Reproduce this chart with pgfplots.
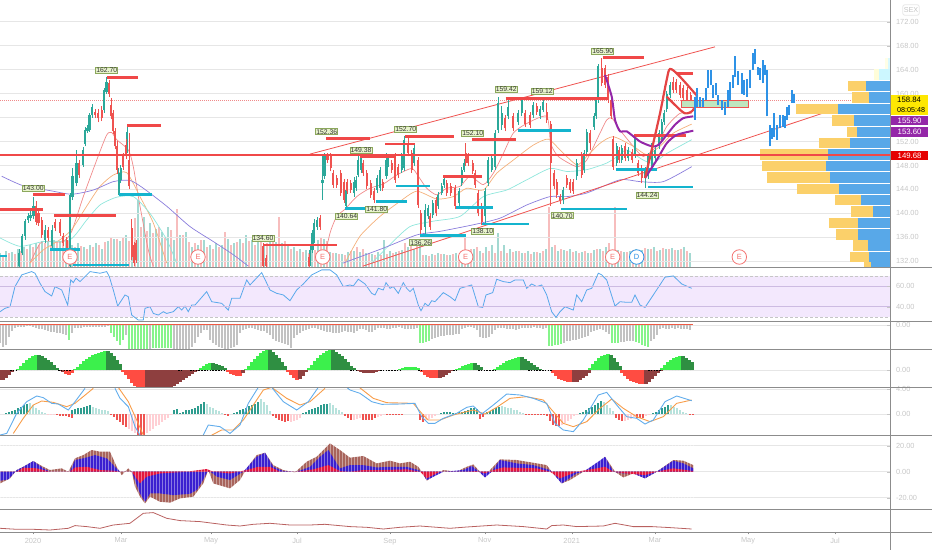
\documentclass[border=0pt]{standalone}
\usepackage{fontspec}
\setmainfont{Liberation Sans}
\usepackage{pgfplots}
\usepackage{pgfplotstable}
\pgfplotsset{compat=1.18}
\definecolor{up}{HTML}{2BA89A}
\definecolor{down}{HTML}{EF5350}
\definecolor{volup}{HTML}{A4D9D2}
\definecolor{voldown}{HTML}{F7BDBD}
\definecolor{gridc}{HTML}{E6E6E6}
\definecolor{lab}{HTML}{C6C6C6}
\definecolor{sep}{HTML}{8C8C8C}
\definecolor{lvlred}{HTML}{F04848}
\definecolor{lvlcy}{HTML}{14B4CE}
\definecolor{maPink}{HTML}{F08A8A}
\definecolor{maOr}{HTML}{F4B07A}
\definecolor{maCy}{HTML}{8FE6DC}
\definecolor{maBl}{HTML}{8A7DDC}
\definecolor{purp}{HTML}{9427A8}
\definecolor{proj}{HTML}{2E92E6}
\definecolor{vpY}{HTML}{FBD06A}
\definecolor{vpB}{HTML}{58A8E8}
\definecolor{barGr}{HTML}{C2C2C2}
\definecolor{barLi}{HTML}{86F48A}
\definecolor{sqLi}{HTML}{3CF04C}
\definecolor{sqDk}{HTML}{2F8F42}
\definecolor{sqRe}{HTML}{FF4C42}
\definecolor{sqMa}{HTML}{8E3F3F}
\definecolor{teDk}{HTML}{2E9C8E}
\definecolor{teLi}{HTML}{B7E2DC}
\definecolor{piLi}{HTML}{FFCFD4}
\definecolor{rsiBand}{HTML}{F3E8FD}
\definecolor{rsiLn}{HTML}{CDBBE2}
\definecolor{pBr}{HTML}{A8645C}
\definecolor{pBl}{HTML}{3A1FD0}
\definecolor{pCr}{HTML}{E3173E}
\definecolor{calF}{HTML}{E8F4CC}
\definecolor{calD}{HTML}{8CA85C}

% candles: x, body low, body high, wick low, wick high
\pgfplotstableread{
x lo hi wl wh
19 131.2 133.4 131 134
22 133.4 136.2 133 136.6
25 136.2 138.7 135.6 139
28 138.9 139.5 138.4 140
30.5 139.2 139.8 138.8 140.4
33.5 139.5 141.2 139 142.8
45 135.6 137.3 135 138
52 134.5 137.3 134 138
70 131.2 143.1 131 143.4
72.5 142.8 146.2 142.2 147.6
76.5 145 148.4 144.5 150.6
83 148.1 150.5 147.8 151
85 151.6 153.9 151.2 154.4
87.5 153.7 154.2 153.4 154.8
89.5 153.9 156.4 153.6 156.8
92 156.4 157.8 156 158.3
104 157.3 160.6 156.8 161
106.5 160.3 162 160 162.7
118.7 143.3 146.8 143 147.5
120.7 145.6 147.5 145 148
127 150.6 153.6 150 154.8
310 131.7 133.9 131.2 134.5
312.5 133.9 136.7 133.4 137.2
314 135.6 138.4 135 139
317 137.8 138.9 137.3 139.4
322.5 145 145.6 142.3 149.5
324.5 146.2 149.5 145.8 150
346 141.2 143.9 140.5 144.4
354 143.4 145.3 142.8 146
356 144.2 145.6 143.8 146.2
358.3 146.4 148.9 146 150
361 147.3 149.2 146.8 149.8
377 143.9 145.9 143.4 146.4
380 144.2 147.3 143.8 147.8
386.5 146.2 148.9 145.8 150
388.3 148.4 149.2 147.8 149.8
401.7 147.3 149.5 146.8 150
404 147.5 152.3 147 153
414.3 148.4 150.9 147.9 151.4
425 137.8 140.6 136.5 141.5
428.3 139.5 140.9 139 141.4
432.7 139.8 141.7 139.2 142.2
438.3 141.2 143.1 140.7 143.6
441.7 143.4 144.5 143 145
444 144.8 145.7 144.3 146.2
459.3 141.7 143.7 141.2 144.2
461.7 145 147.3 144.5 147.8
464 147.3 148.4 146.9 149
485 139.5 143.7 138.3 144.2
488.3 145 148.9 144.5 149.4
491.7 147.3 149.2 146.9 149.7
495 147.8 153.4 147.3 154
498 153.9 158.4 153.4 159.4
501.7 154.8 156.7 154 158
508.3 156.2 157.8 155.7 159
518.3 155.3 156.7 154.8 157.2
521.7 156.7 158.9 156.2 159.3
533.3 156.4 158.1 156 158.6
540 156.2 157.5 155.8 158
543.3 157.3 158.6 156.9 159.1
563.3 142.3 143.9 141.5 144.4
576.7 146.2 148.4 145.6 149
584 147.3 150 146.8 150.5
586.7 150.3 153.6 149.8 154.1
594 154.5 156.2 154 156.7
596 156.2 158.9 155.8 159.4
598.3 158.9 164.6 158.5 165
616.7 148.4 151.2 147.9 151.7
621.7 148.9 150.9 148.4 151.4
628 149.2 150.6 148.7 151.1
635 149.8 152.8 149.3 153.3
645 145.9 147.3 144.2 147.8
648.3 146.2 149.5 145.7 150
651.7 147.8 151.2 147.3 151.7
655 149.2 150.6 148.7 151.1
659.3 151.2 153.4 150.7 153.9
661.7 152.3 155.3 151.8 155.8
664 155.3 156.7 154.8 157.2
666.7 157.5 160 157 160.5
670 159.8 161.4 159.3 162
}\greenc
\pgfplotstableread{
x lo hi wl wh
36 138.6 141.2 138.1 142
38.5 138.4 140 137.9 140.5
41.7 136.4 138.9 135.9 139.4
48 135.9 137.3 135.4 137.8
55 137.5 138.6 137 139.1
60 136.7 138.6 136.2 139.1
63.3 135 136.2 134.5 136.7
66.7 134.2 135.6 133.7 136.1
79.3 146.4 148.4 145.9 148.9
95 156.4 157 155.9 157.5
98.3 155.9 156.7 155.2 157.4
101.7 155.9 157.3 155.4 158
109 160 161.8 159.5 162.2
111 156.2 158.1 155.7 159.2
113.3 153.7 156.7 153.2 157.2
115 151.2 153.7 150.7 154.2
117.3 147.3 151.2 146.5 152
123.3 147.8 149.5 147.3 150
126 149.5 151.4 149 152.5
129.3 144.5 148.9 144 153.5
131.7 132.8 137.5 132.3 139
134 131.7 134.8 131.2 135.3
136 132.3 135 131.8 135.5
263 131.2 134.5 131 135
266 131.2 132.5 131 133
309 131.2 132.8 131 133.3
320 137.8 139.2 137.3 139.7
327.5 148.9 149.5 148.4 150
330.7 147.5 149.5 147 150
333.3 144.8 146.7 144.3 147.2
336.7 144.8 145.9 144.3 146.4
340.7 143.4 146.7 142.9 147.2
344 142.3 145.3 141.8 145.8
347.3 143.7 145.3 143.2 145.8
350.7 143.9 145 143.4 145.5
363.3 146.7 148.4 146.2 148.9
366.7 144.5 146.7 144 147.2
370.7 143.1 145 142.6 145.5
374 142.3 143.7 141.8 144.2
382.7 144.2 145.3 143.7 145.8
391.7 147.3 148.4 146.8 148.9
395 145.6 149.5 145.1 150
398.3 146.4 147.8 145.9 148.3
408.3 150 151.7 149.5 152.7
411.7 147.3 150 146.8 150.5
418.3 141.4 148.9 140.9 149.4
420.7 137.3 140 136.3 140.5
430 137.8 139.5 137.3 140
436 140 142.3 139.5 142.8
446.7 143.4 145 142.9 145.5
450.7 143.4 144.5 142.9 145
455 141.2 144.2 140.7 144.7
465.7 148.4 150 147.9 151.7
468.3 148.4 149.5 147.9 150
472.7 147 148.4 146.5 148.9
475 144.8 146.7 144.3 147.2
478.3 140 143.4 139.5 143.9
481.7 138.6 141.2 138 141.7
505 154.2 155.9 153.7 156.4
513.3 154.2 156.2 153.7 156.7
525 155 156.7 154.5 157.2
530 154.8 156.4 154.3 156.9
536.7 157 157.9 156.5 158.4
546.7 155.6 157 155.1 158.5
550.7 148.4 155 141.2 155.5
554 144.5 146.7 144 147.2
556.7 143.1 145.3 142.6 145.8
560 142 142.8 141.5 143.3
566.7 144.8 145.9 144.3 146.4
570 143.9 145.3 143.4 145.8
573.3 143.7 145.3 143.2 145.8
581.7 146.4 149.8 145.9 150.3
590 151.7 153.4 150.5 154
601.7 161.7 164.2 161.2 165.9
605 161.4 164.2 160.9 164.7
608.3 158.9 162.8 158.4 163.3
611 156.2 158.9 155.7 159.4
613.3 147.8 152.5 147.3 153
619 148.9 150.6 148.4 151.1
625 149.2 151.2 148.7 151.7
632 148.9 150.3 148.4 150.8
638.3 146.7 148.4 146.2 148.9
641.7 145.9 147.5 145 148
673.3 160.6 162 160.1 162.8
676 160.6 162 160.1 162.5
680 159.8 161.4 159.3 161.9
683.3 159.2 160.9 158.7 161.4
687.3 158.9 160.6 158.4 161.1
690.7 158.4 159.8 157.9 160.3
}\redc
% projected blue bars: x, low, high
\pgfplotstableread{
x lo hi
695 155.6 159.5
697.3 157.8 160.9
700 157.8 159.5
703.3 157.8 159.2
706 158.9 160.9
708.3 160.9 164
710.7 161.4 164
713.3 159.2 161.4
716 159.8 161.7
718.3 158.1 159.8
721.7 157.3 158.9
725 156.4 158.6
727.7 157.8 160.6
730 158.9 162
732.7 160.9 163.1
735.3 162.8 166.2
738.3 161.4 163.7
741.7 160 163.4
744.3 159.8 162.3
747.3 159.5 162.5
750 160.9 163.9
752.7 163.9 166.7
755 165 167.4
757.7 163.1 164.5
760.3 162.3 164.2
762.7 161.7 165.6
764.7 163.1 164.8
766.7 156.2 163.9
770 151.2 154.8
772.3 152.5 154.2
774.3 152.8 156.7
776.7 152.3 154.8
780 154.2 156.4
783.3 154.5 156.4
785 154.2 156.2
787.3 155.6 157.8
789.3 156.4 158.1
791.7 158.4 160.6
794 158.4 160
}\projc
% volume profile: price row, left edge of yellow, left edge of blue
\pgfplotstableread{
p y b
161.3 848.3 865.7
159.35 852.3 868.7
157.4 796.3 837.7
155.5 832.3 854.3
153.6 847.3 857.3
151.8 819 850
149.85 760 828.3
147.9 762.3 826
146 767 830
144.1 796.7 838.7
142.2 835 861.3
140.3 851 873
138.4 828.7 857.7
136.5 836.3 858.3
134.65 853 867.7
132.75 850.3 869.3
131.4 864 871
}\vprof

\newcommand{\candles}[2]{%
\addplot[draw=none,mark=none,forget plot,error bars/.cd,y dir=plus,y explicit,error mark=none,
  error bar style={draw=#2,line width=.7pt,solid}] table[x=x,y=wl,y error expr=\thisrow{wh}-\thisrow{wl}]{#1};
\addplot[draw=none,mark=none,forget plot,error bars/.cd,y dir=plus,y explicit,error mark=none,
  error bar style={draw=#2,line width=2.1pt,solid}] table[x=x,y=lo,y error expr=\thisrow{hi}-\thisrow{lo}]{#1};
}
% comb of bars 3 px apart starting at x0
\newcommand{\barw}{1.5pt}
\newcommand{\bars}[3]{%
\addplot[ycomb,draw=#1,forget plot,line width=\barw] table[row sep=\\,header=false,x expr=\coordindex*3+#2,y index=0]{#3};
}
\newcommand{\levels}[2]{\addplot[draw=#1,line width=2.6pt,unbounded coords=jump,forget plot] coordinates {#2};}
\tikzset{callout/.style={draw=calD,fill=calF,inner sep=.6pt,line width=.5pt,text=black!80,font=\fontsize{6.8}{7}\selectfont},
 evt/.style={circle,draw=#1,fill=white,line width=.8pt,minimum size=14.5pt,inner sep=0pt,text=#1,font=\fontsize{7.5}{8}\selectfont},
 tag/.style={fill=#1,minimum width=37.5pt,minimum height=9.6pt,inner sep=0pt,anchor=west,font=\fontsize{7.8}{8}\selectfont}}
\pgfplotsset{pane/.style={scale only axis,width=890pt,xmin=0,xmax=890,axis line style={draw=none},
  xtick=\empty,ytick pos=right,yticklabel pos=right,tick style={draw=lab},major tick length=3pt,
  ymajorgrids,grid style={gridc,line width=.9pt},
  yticklabel style={text=lab,font=\fontsize{7.4}{8}\selectfont,anchor=west,xshift=2.5pt,
   /pgf/number format/fixed,/pgf/number format/fixed zerofill,/pgf/number format/precision=2,/pgf/number format/assume math mode=true}}}

\begin{document}
\begin{tikzpicture}

% volume under the main pane
\begin{axis}[pane,at={(0pt,283pt)},anchor=south west,height=267pt,ymin=0,ymax=267,ytick=\empty,ymajorgrids=false]
\addplot[ycomb,draw=volup,line width=1.3pt] table[row sep=\\,header=false,x expr=\coordindex*6,y index=0]{14\\16\\15\\18\\20\\22\\24\\26\\25\\27\\26\\28\\22\\24\\20\\22\\24\\18\\26\\28\\26\\32\\36\\67\\50\\44\\38\\35\\40\\27\\32\\35\\20\\22\\27\\22\\24\\22\\28\\24\\28\\32\\27\\28\\22\\27\\25\\24\\22\\20\\18\\17\\20\\27\\28\\15\\14\\13\\15\\16\\15\\14\\13\\15\\27\\16\\15\\17\\20\\18\\22\\12\\13\\14\\13\\12\\14\\13\\16\\18\\16\\20\\22\\34\\22\\18\\16\\14\\16\\15\\14\\18\\20\\16\\17\\18\\16\\15\\14\\17\\18\\20\\16\\17\\15\\16\\18\\17\\18\\20\\17\\18\\19\\17\\20\\14\\};
\addplot[ycomb,draw=voldown,line width=1.3pt] table[row sep=\\,header=false,x expr=\coordindex*6+3,y index=0]{12\\14\\13\\16\\18\\20\\22\\24\\22\\25\\24\\26\\20\\21\\18\\20\\22\\25\\30\\28\\30\\26\\49\\40\\36\\34\\40\\30\\37\\58\\32\\25\\24\\27\\20\\18\\20\\35\\22\\25\\24\\26\\22\\25\\24\\26\\50\\26\\18\\16\\15\\14\\17\\30\\26\\14\\13\\12\\16\\20\\18\\14\\12\\12\\13\\14\\16\\24\\22\\28\\12\\11\\12\\13\\12\\13\\12\\29\\18\\20\\14\\16\\14\\16\\14\\15\\16\\14\\13\\15\\16\\60\\22\\18\\16\\15\\14\\16\\14\\18\\16\\24\\60\\16\\15\\17\\16\\19\\18\\16\\19\\18\\17\\18\\16\\};
\end{axis}

% main price pane
\begin{axis}[pane,at={(0pt,283pt)},anchor=south west,height=267pt,ymin=131.05,ymax=175.62,
  ytick={132,136,140,144,148,152,160,164,168,172}]
\addplot[draw=gridc,line width=.9pt] coordinates {(0,156)(890,156)};
\addplot[draw=maPink,line width=.6pt,dash pattern=on 1pt off 1pt] coordinates {(0,158.84)(890,158.84)};
% moving averages
\addplot[draw=maPink,line width=.7pt,smooth,tension=.4] coordinates {(30,131.7)(40,135)(46.7,135.3)(63.3,135.3)(71.7,137)(83.3,142.8)(96.7,148.9)(106.7,153.1)(111.7,153.5)(116.7,152.3)(128.3,150.6)(133.3,147.8)(140,141.2)(148.3,133.9)(153.3,131.2)};
\addplot[draw=maPink,line width=.7pt,smooth,tension=.4] coordinates {(323.3,131.7)(330,136.7)(336.7,139.5)(345,140.7)(356.7,142.8)(370,144.2)(383.3,144.9)(396.7,146.4)(411.7,147.5)(418.3,146.2)(426.7,144.2)(436.7,143.1)(446.7,144.2)(460,144.5)(470,146.2)(483.3,144.8)(493.3,146.7)(503.3,150)(513.3,153.4)(526.7,155)(546.7,156.2)(550.7,151.7)(558.3,149.5)(576.7,147.8)(586.7,148.9)(600,153.4)(606.7,155.6)(612,155.9)(620,153.9)(633.3,151.2)(643.3,149.5)(656.7,151.2)(666.7,154.5)(680,156.7)(691.7,156.7)};
\addplot[draw=maOr,line width=.7pt,smooth,tension=.4] coordinates {(30,131.7)(43.3,133.9)(60,135.6)(71.7,137.3)(86.7,141.2)(100,144.5)(113.3,146.4)(126.7,146.8)(140,142.8)(153.3,138.4)(166.7,131.7)};
\addplot[draw=maOr,line width=.7pt,smooth,tension=.4] coordinates {(345,131.7)(360,136.2)(380,139.5)(400,142)(416.7,143.7)(436.7,142.4)(453.3,142.8)(466.7,144.2)(483.3,143.9)(496.7,146.7)(513.3,148.9)(533.3,151.4)(548.3,152.4)(560,150.6)(576.7,148.1)(586.7,149.5)(600,151.7)(613.3,152.8)(633.3,151.2)(646.7,149.8)(660,151.2)(673.3,153.4)(691.7,154.9)};
\addplot[draw=maCy,line width=.7pt,smooth,tension=.4] coordinates {(0,135.9)(20,134.5)(43.3,135.3)(70,135.6)(86.7,138.9)(100,141.4)(116.7,142.7)(133.3,142.8)(150,140)(166.7,135.6)(176.7,131.7)};
\addplot[draw=maCy,line width=.7pt,smooth,tension=.4] coordinates {(371.7,131.7)(390,134.8)(410,137.8)(433.3,138.7)(460,139.5)(483.3,142.8)(506.7,143.9)(526.7,145.6)(550,147.5)(566.7,147)(586.7,147.3)(606.7,148.4)(620,149.8)(626.7,150.6)(643.3,148.9)(653.3,148.4)(666.7,150)(691.7,152.3)};
\addplot[draw=maBl,line width=.7pt,smooth,tension=.4] coordinates {(1.7,146.2)(23.3,144.6)(50,143.8)(71.7,143.2)(93.3,143.9)(113.3,145.3)(130,145.5)(143.3,144.2)(166.7,141.2)(190,137.8)(213.3,135.3)(233.3,133.1)(248.3,131.2)};
\addplot[draw=maBl,line width=.7pt,smooth,tension=.4] coordinates {(343,131.7)(383.3,134.2)(416.7,136.4)(440,137)(473.3,138.1)(500,139.2)(526.7,141.4)(550,142.8)(566.7,142.8)(586.7,143.4)(620,145.6)(640,145.3)(663.3,145.3)(691.7,147.8)};
% trend lines
\addplot[draw=down,line width=.8pt] coordinates {(310,149.9)(715,167.8)};
\addplot[draw=down,line width=.8pt] coordinates {(363,131.2)(836.7,157.5)};
% candles
\candles{\greenc}{up}
\candles{\redc}{down}
% support and resistance stubs
\levels{lvlred}{(0,140.6)(43.3,140.6)(0,nan)(33,143.2)(65,143.2)(0,nan)(54,139.6)(116,139.6)(0,nan)(106.7,162.7)(137.7,162.7)(0,nan)(127,154.7)(161,154.7)(0,nan)(263,134.7)(336.7,134.7)(0,nan)(326,152.5)(370,152.5)(0,nan)(385,151.6)(415,151.6)(0,nan)(360,149.5)(396,149.5)(0,nan)(404.7,152.8)(454,152.8)(0,nan)(471.7,152.3)(516,152.3)(0,nan)(443,146.2)(481.7,146.2)(0,nan)(505.7,159.2)(608,159.2)(0,nan)(602.7,166)(644,166)(0,nan)(634,153)(686,153)(0,nan)(677,163.4)(693,163.4)}
\levels{lvlcy}{(0,132.9)(7,132.9)(0,nan)(50,134)(79.7,134)(0,nan)(73,131.4)(129,131.4)(0,nan)(118.7,143.2)(152,143.2)(0,nan)(345,140.8)(377,140.8)(0,nan)(375.7,142)(407,142)(0,nan)(396,144.6)(430,144.6)(0,nan)(420,136.3)(466,136.3)(0,nan)(456,141)(492.7,141)(0,nan)(482,138.2)(529,138.2)(0,nan)(518,153.8)(571,153.8)(0,nan)(561,140.7)(627,140.7)(0,nan)(616,147.3)(657,147.3)(0,nan)(648,144.4)(693,144.4)}
% thick purple curves and the hand-drawn loop
\addplot[draw=purp,line width=2pt,smooth,tension=.4] coordinates {(605,163.1)(611.7,159.5)(615,155.6)(620,153.7)(626.7,153.7)(640,152)(651.7,151.2)(658.3,151.4)(666.7,153.1)(675,154.8)(683.3,155.9)(693.3,156.2)};
\addplot[draw=purp,line width=2pt,smooth,tension=.4] coordinates {(645,145.9)(656.7,148.9)(666.7,151.7)(676.7,153.1)(693.3,153.8)};
\addplot[draw=lvlred!95!black,line width=2.2pt,smooth,tension=.5] coordinates {(645,145.9)(651.7,150.6)(660,156.7)(666.7,162.3)(670,164.1)(678.3,163.1)(695,160)(696.7,159.5)(693.3,157.3)(685,156.7)(675,158.1)(666.7,159.5)};
% box
\addplot[draw=down,fill=green!60!black!25,line width=.8pt] coordinates {(681.7,157.7)(748.3,157.7)(748.3,158.8)(681.7,158.8)} --cycle;
% projected path
\addplot[draw=none,mark=none,forget plot,error bars/.cd,y dir=plus,y explicit,error mark=none,
  error bar style={draw=proj,line width=1.9pt,solid}] table[x=x,y=lo,y error expr=\thisrow{hi}-\thisrow{lo}]{\projc};
% volume profile
\addplot[draw=none,mark=none,forget plot,error bars/.cd,x dir=plus,x explicit,error mark=none,
  error bar style={draw=vpY,line width=10.3pt,solid}] table[x=y,y=p,x error expr=890-\thisrow{y}]{\vprof};
\addplot[draw=none,mark=none,forget plot,error bars/.cd,x dir=plus,x explicit,error mark=none,
  error bar style={draw=vpB,line width=10.3pt,solid}] table[x=b,y=p,x error expr=890-\thisrow{b}]{\vprof};
\addplot[draw=yellow!15!white,line width=10.3pt] coordinates {(874.3,163.2)(890,163.2)};
\addplot[draw=blue!15!cyan!20!white,line width=10.3pt] coordinates {(879.3,163.2)(890,163.2)};
\addplot[draw=yellow!10!white,line width=10.3pt] coordinates {(885,165)(890,165)};
\addplot[draw=blue!15!cyan!15!white,line width=10.3pt] coordinates {(888,165)(890,165)};
% 149.68 level
\addplot[draw=lvlred,line width=1.9pt] coordinates {(0,149.68)(890,149.68)};
\end{axis}

% RSI
\begin{axis}[pane,at={(0pt,228.3pt)},anchor=south west,height=54.7pt,ymin=25.3,ymax=78.9,ytick={40,60},grid style={rsiLn,line width=.8pt},axis on top]
\addplot[fill=rsiBand,draw=none] coordinates {(0,30)(890,30)(890,70)(0,70)} --cycle;
\addplot[draw=lab,line width=.7pt,dash pattern=on 3pt off 2pt] coordinates {(0,70)(890,70)};
\addplot[draw=lab,line width=.7pt,dash pattern=on 3pt off 2pt] coordinates {(0,30)(890,30)};
\addplot[draw=rsiLn,line width=.7pt] coordinates {(0,60)(890,60)};
\addplot[draw=rsiLn,line width=.7pt] coordinates {(0,40)(890,40)};
\addplot[draw=proj!80!white,line width=.8pt] coordinates {(0,35.1)(5,38.4)(10,40)(15,59.7)(21.7,71.2)(31.7,74.4)(35,72.8)(40,63)(45,54.8)(51.7,50.5)(55,59.7)(61.7,56.4)(67.7,41.6)(70.7,66.2)(73.3,63.6)(76,67.9)(80,64.6)(90,74.4)(100,72.8)(106.7,74.4)(109.3,69.5)(113.3,56.4)(117.7,40.6)(125,51.5)(128.3,49.8)(131.7,31.8)(138.3,26.9)(143.3,26.9)(145,38.4)(150,40)(153.3,33.4)(158.3,31.8)(163.3,35.1)(166.7,33.4)(173.3,35.1)(178.3,40)(181.7,36.7)(185,40.6)(188.3,35.1)(191.7,41.6)(195,41.6)(206.7,54.8)(211.7,44.9)(221.7,43.3)(228.3,36.7)(231.7,48.2)(240,48.2)(246.7,66.2)(250,61.3)(261.7,73.4)(270,56.4)(276.7,53.1)(283.3,51.5)(290,45.9)(296.7,56.4)(303.3,62.3)(311.7,71.2)(321.7,76.1)(330,76.1)(336.7,71.2)(343.3,59.7)(350,61.3)(353.3,60.3)(358.3,66.9)(365,62.3)(371.7,53.1)(375,51.5)(378.3,58)(383.3,56.4)(386,63.6)(390,58)(393.3,59.7)(398.3,53.1)(403.3,63.6)(406.7,58)(410,54.8)(413.3,58)(418.3,41.6)(421,36)(425,43.3)(428.3,40.6)(431.7,45.9)(435,44.9)(443.3,53.8)(450,49.8)(455,45.9)(460,58)(471.7,61.3)(478.3,40)(482.7,39.3)(486,51.5)(492.7,53.8)(496.7,66.9)(503.3,64.6)(510,63.6)(515,66.2)(523.3,66.2)(526.7,58)(531.7,62.3)(536.7,59.7)(541.7,61.3)(546.7,51.5)(551.7,35.1)(556,29.5)(560,35.1)(565,40)(573.3,36.7)(576.7,51.5)(581.7,44.9)(586.7,56.4)(591.7,58)(598.3,72.8)(601.7,71.2)(606.7,66.2)(615,40.6)(620,44.9)(626.7,44.3)(631.7,44.3)(635,51.5)(640,41.6)(645,39.3)(653.3,51.5)(665,68.9)(673.3,70.2)(681.7,62.3)(691.7,58)};
\end{axis}

% hanging histogram
\begin{axis}[pane,at={(0pt,200.3pt)},anchor=south west,height=28pt,ymin=-24.7,ymax=3.3,ytick={0}]
\bars{barGr}{0}{-18\\-22\\-20\\-12\\-6\\-3\\-2\\-2\\-2\\-1\\-1\\-2\\-3\\-4\\-4\\-5\\-6\\-7\\-7\\-8\\-8\\-9\\-10\\}
\bars{barLi}{69}{-15\\}
\bars{barGr}{72}{-8\\-3\\-3\\-3\\-2\\-2\\-2\\-2\\-2\\-2\\-2\\-2\\-1\\}
\bars{barLi}{111}{-8\\-12\\-16\\-20\\-15\\}
\bars{barGr}{126}{-10\\}
\bars{barLi}{129}{-24\\-24\\-24\\-24\\-24\\-24\\-24\\}
\bars{barGr}{150}{-24\\}
\bars{barLi}{153}{-23\\-23\\-23\\-23\\-23\\-23\\-23\\}
\bars{barGr}{174}{-24\\-24\\-24\\-24\\-24\\-24\\-22\\-18\\-12\\-8\\-5\\-5\\-15\\-18\\-20\\-22\\-23\\-24\\-24\\-23\\-22\\-20\\-8\\-5\\-4\\-3\\-3\\-4\\-5\\-6\\-6\\-8\\-10\\-14\\-16\\-17\\-18\\-19\\-20\\-23\\-13\\-10\\-8\\-6\\-5\\-4\\-3\\-3\\-4\\-5\\-6\\-7\\-7\\-8\\-8\\-8\\-7\\-6\\-7\\-7\\-8\\-6\\-4\\-4\\-5\\-7\\-7\\-5\\-3\\-3\\-3\\-4\\-4\\-3\\-3\\-2\\-3\\-4\\-4\\-4\\-4\\-3\\}
\bars{barLi}{420}{-18\\-18\\-17\\-16\\}
\bars{barGr}{432}{-14\\-13\\-12\\-11\\-11\\-10\\-10\\-10\\-9\\-9\\-4\\-3\\-2\\-2\\-3\\-5\\-12\\-13\\-13\\-12\\-9\\-5\\-3\\-3\\-3\\-4\\-4\\-4\\-5\\-4\\-3\\-3\\-3\\-3\\-2\\-3\\-3\\-4\\-3\\}
\bars{barLi}{549}{-21\\-21\\-20\\-20\\-19\\}
\bars{barGr}{564}{-18\\-16\\-16\\-15\\-15\\-14\\-13\\-12\\-11\\-7\\-6\\-5\\-4\\-5\\-7\\-9\\}
\bars{barLi}{612}{-18\\-18\\-18\\}
\bars{barGr}{621}{-17\\-17\\-16\\-16\\-16\\}
\bars{barLi}{636}{-17\\-18\\-20\\-21\\-22\\}
\bars{barGr}{651}{-16\\-14\\-10\\-4\\-3\\-4\\-4\\-3\\-4\\-3\\-4\\-4\\-4\\-5\\}
\addplot[draw=down!85!orange,line width=1pt] coordinates {(0,0)(693,0)};
\end{axis}

% squeeze momentum, bars that touch
\renewcommand{\barw}{3.2pt}
\begin{axis}[pane,at={(0pt,162.7pt)},anchor=south west,height=37.6pt,ymin=-17,ymax=20.6,ytick={0}]
\bars{sqMa}{0}{-10\\-10\\-8\\-5\\-2\\}
\bars{sqLi}{18}{1\\4\\7\\10\\12\\14\\15\\}
\bars{sqDk}{39}{15\\14\\12\\10\\8\\5\\2\\}
\bars{sqMa}{60}{-1\\-2\\}
\bars{sqRe}{66}{-4\\-5\\-3\\}
\bars{sqLi}{75}{1\\3\\6\\9\\11\\13\\15\\16\\17\\18\\19\\}
\bars{sqDk}{108}{19\\17\\14\\10\\6\\}
\bars{sqRe}{123}{-2\\-5\\-9\\-13\\-16\\-17\\-17\\-17\\}
\bars{sqMa}{147}{-17\\-17\\-17\\-17\\-17\\-17\\-17\\-17\\-17\\-16\\-14\\-12\\-10\\-8\\-6\\-4\\-2\\-1\\}
\bars{sqLi}{201}{2\\4\\6\\7\\}
\bars{sqDk}{213}{7\\6\\5\\4\\2\\}
\bars{sqRe}{228}{-2\\-4\\-5\\-6\\-6\\}
\bars{sqMa}{243}{-3\\}
\bars{sqLi}{246}{1\\4\\8\\11\\14\\17\\19\\20\\}
\bars{sqDk}{270}{20\\18\\15\\12\\8\\4\\}
\bars{sqRe}{288}{-2\\-5\\-8\\-10\\}
\bars{sqMa}{300}{-9\\-6\\-2\\}
\bars{sqLi}{309}{2\\5\\9\\12\\15\\17\\19\\20\\}
\bars{sqDk}{333}{20\\18\\16\\14\\11\\8\\4\\2\\}
\bars{sqMa}{358}{-1\\-2\\-3\\-3\\-3\\-3\\-2\\-1\\}
\bars{sqLi}{400}{1\\2\\3\\3\\3\\3\\2\\}
\bars{sqRe}{422}{-2\\-5\\-7\\-8\\-8\\-8\\}
\bars{sqMa}{440}{-8\\-7\\-5\\-3\\-1\\}
\bars{sqLi}{457}{1\\2\\4\\5\\6\\7\\}
\bars{sqDk}{475}{7\\5\\3\\}
\bars{sqLi}{495}{1\\3\\5\\7\\9\\10\\11\\12\\13\\}
\bars{sqDk}{522}{13\\11\\9\\7\\5\\3\\1\\}
\bars{sqRe}{553}{-3\\-6\\-9\\-10\\-11\\-12\\-12\\}
\bars{sqMa}{574}{-12\\-12\\-10\\-8\\-6\\-3\\}
\bars{sqLi}{590}{2\\6\\9\\12\\14\\15\\16\\}
\bars{sqDk}{611}{15\\12\\8\\4\\}
\bars{sqRe}{622}{-3\\-6\\-9\\-11\\-12\\-13\\-14\\-14\\}
\bars{sqMa}{646}{-14\\-12\\-9\\-6\\-3\\-1\\}
\bars{sqLi}{662}{2\\5\\8\\10\\12\\13\\14\\}
\bars{sqDk}{683}{14\\12\\10\\8\\}
\addplot[draw=black,line width=1.1pt,dash pattern=on 1.6pt off 1.2pt,unbounded coords=jump] coordinates {(10,0)(17,0)(0,nan)(58,0)(72,0)(0,nan)(178,0)(183,0)(0,nan)(190,0)(225,0)(0,nan)(350,0)(358,0)(0,nan)(380,0)(400,0)(0,nan)(418,0)(421,0)(0,nan)(453,0)(457,0)(0,nan)(478,0)(495,0)(0,nan)(528,0)(552,0)(0,nan)(648,0)(662,0)};
\end{axis}

% MACD
\renewcommand{\barw}{1.5pt}
\begin{axis}[pane,at={(0pt,114.7pt)},anchor=south west,height=48pt,ymin=-3.45,ymax=4.33,ytick={0,4}]
\bars{teDk}{6}{.1\\.3\\.5\\.7\\.9\\1.2\\1.5\\1.7\\}
\bars{teLi}{30}{1.8\\1.5\\1\\.7\\.4\\.2\\}
\bars{piLi}{48}{-.1\\-.1\\-.2\\}
\bars{down}{57}{-.2\\-.3\\-.4\\-.4\\-.5\\-.7\\}
\bars{teDk}{72}{.7\\.8\\.9\\1\\1.1\\1.3\\1.4\\}
\bars{teLi}{93}{1.2\\.9\\.8\\.7\\.6\\.5\\}
\bars{down}{111}{-.2\\-.5\\-.9\\-1.3\\-1.8\\-2.1\\}
\bars{piLi}{129}{-2.4\\-2.7\\-3\\}
\bars{down}{138}{-3.4\\-3.4\\-3.4\\}
\bars{piLi}{147}{-3\\-2.7\\-2.4\\-2\\-1.7\\-1.3\\-1\\-.6\\-.2\\}
\bars{teDk}{174}{.7\\.8\\.2\\.4\\.6\\.6\\.8\\1\\1.3\\1.7\\1.9\\}
\bars{teLi}{207}{1.6\\1.2\\1\\.7\\.5\\.2\\}
\bars{down}{225}{-.2\\-.3\\}
\bars{teDk}{234}{.1\\.3\\.6\\.8\\1\\1.3\\1.5\\1.7\\1.9\\}
\bars{teLi}{261}{2.4\\2\\1.4\\.5\\}
\bars{down}{273}{-.3\\-.6\\-.9\\-1.1\\-1.3\\-1.2\\}
\bars{piLi}{291}{-1.3\\-1.2\\-1\\-.6\\}
\bars{teDk}{303}{.2\\.4\\.6\\.8\\1\\1.2\\1.4\\1.6\\1.7\\}
\bars{teLi}{330}{1.8\\1.4\\1\\.7\\.3\\}
\bars{down}{345}{-.4\\-.7\\-.9\\}
\bars{piLi}{354}{-.9\\-.8\\-.7\\}
\bars{down}{363}{-.9\\-1\\-1\\-.9\\-.7\\}
\bars{piLi}{378}{-.5\\-.4\\-.2\\}
\bars{down}{387}{-.1\\-.1\\-.2\\-.1\\-.1\\-.1\\}
\bars{down}{420}{-1\\-1.3\\}
\bars{piLi}{426}{-.9\\-.8\\-.6\\-.4\\}
\bars{teDk}{441}{.2\\.3\\.4\\.3\\.2\\.2\\.3\\.4\\.5\\.7\\.9\\1\\.8\\}
\bars{down}{480}{-.8\\-.5\\}
\bars{teDk}{487}{.3\\.5\\.8\\1\\1.2\\}
\bars{teLi}{502}{1.3\\1.2\\1\\.9\\.7\\.6\\.4\\.2\\}
\bars{down}{526}{-.1\\-.1\\-.2\\-.1\\-.1\\-.2\\-.2\\-.3\\}
\bars{down}{550}{-1.2\\-1.8\\-2\\-1.9\\}
\bars{piLi}{562}{-1.7\\-1.5\\-1.2\\-.8\\-.4\\-.1\\}
\bars{teDk}{580}{.1\\.3\\.6\\.9\\1.2\\1.4\\1.8\\2.1\\}
\bars{teLi}{604}{1.9\\1.5\\1\\.5\\}
\bars{down}{616}{-.6\\-1\\-1.2\\}
\bars{piLi}{625}{-1.2\\-1\\-.8\\-.5\\}
\bars{down}{637}{-.6\\-.7\\-.6\\}
\bars{piLi}{646}{-.3\\-.2\\}
\bars{teDk}{653}{.1\\.3\\.6\\.9\\1.1\\1.5\\}
\bars{teLi}{671}{1.5\\1.2\\.9\\.6\\.3\\.2\\}
\bars{down}{690}{-.1\\-.1\\}
\addplot[sharp plot,draw=maOr!60!orange,line width=.9pt,unbounded coords=jump] coordinates {(13.3,-3.14)(23.3,-.7)(33.3,1.46)(41.7,2.11)(53.3,1.89)(66.7,1.19)(75,1.73)(93.3,4.16)(0,nan)(118.3,4.32)(128.3,2)(136.7,-.97)(143.3,-3.41)(0,nan)(211.7,-3.41)(221.7,-2.59)(233.3,-2.59)(243.3,-.97)(253.3,1.46)(263.3,3.89)(271.7,4.32)(286.7,2.54)(300,1.46)(310,2)(325,4.16)(0,nan)(359.3,4.32)(373.3,2.54)(386.7,1.84)(413.3,1.73)(421.7,.11)(428.3,-.97)(440,-.97)(453.3,-.16)(473.3,.65)(485,0)(496.7,1.08)(510,2.54)(526.7,2.81)(543.3,2.27)(553.3,.38)(563.3,-1.51)(573.3,-2.05)(586.7,-1.24)(600,.92)(611.7,2.43)(623.3,.92)(636.7,-.43)(650,-1.24)(663.3,-.43)(676.7,1.73)(691.7,2.27)};
\addplot[sharp plot,draw=proj!75!white,line width=.9pt,unbounded coords=jump] coordinates {(0,-3.41)(6.7,-3.14)(16.7,.11)(26.7,2)(36.7,2.92)(43.3,2.65)(51.7,1.73)(58.3,1.62)(68.3,.65)(75,2)(85,4.16)(0,nan)(115,4.16)(120,2.54)(128.3,1.19)(135,-2.05)(140,-3.41)(0,nan)(203.3,-3.41)(208.3,-1.78)(220,-2.05)(230,-3.14)(240,-1.78)(248.3,1.73)(258.3,4.32)(0,nan)(271.7,4.32)(283.3,2)(296.7,.65)(308.3,2)(318.3,4.32)(0,nan)(346.7,4.32)(350,3.89)(360,3.35)(371.7,2)(381.7,1.57)(400,1.62)(415,1.73)(421.7,-.43)(428.3,-1.51)(435,-1.51)(443.3,-.7)(456.7,.11)(466.7,1.08)(473.3,1.3)(481.7,0)(493.3,1.46)(506.7,3.24)(520,3.08)(533.3,2.54)(546.7,1.73)(555,-1.51)(563.3,-2.59)(573.3,-2.86)(583.3,-.97)(598.3,3.08)(606.7,3.51)(616.7,1.46)(626.7,-.43)(636.7,-.7)(645,-1.62)(653.3,-.97)(665,2)(676.7,2.92)(691.7,2.16)};
\end{axis}

% stacked areas, striped by white x grid lines
\begin{axis}[pane,at={(0pt,40.3pt)},anchor=south west,height=74.4pt,ymin=-29.2,ymax=28,ytick={-20,0,20},
  ymajorgrids=false,axis on top,xtick={0,3,...,693},xticklabels={},xtick style={draw=none},xmajorgrids,x grid style={white,opacity=.4,line width=.6pt}]
\addplot[draw=gridc,line width=.9pt] coordinates {(0,20)(890,20)};
\addplot[draw=gridc,line width=.9pt] coordinates {(0,0)(890,0)};
\addplot[draw=gridc,line width=.9pt] coordinates {(0,-20)(890,-20)};
\addplot[fill=pBr,draw=none] coordinates {(0,0)(0,-9)(10,-5.1)(16.7,1.3)(23.3,3.8)(33.3,8.2)(43.3,3.8)(50,1.3)(61.7,2.6)(68.3,0)(75,10.3)(83.3,12.8)(91.7,16.7)(100,15.4)(110,15.4)(116.7,3.8)(121.7,-2.6)(128.3,2.6)(131.7,0)(135,-11.5)(140,-19.2)(145,-24.4)(150,-19.2)(160,-23.1)(170,-23.8)(180,-20.5)(193.3,-19.2)(203.3,-9)(208.3,1.3)(213.3,-9)(230,-12.8)(240,-6.4)(246.7,2.6)(256.7,12.8)(265,14.6)(273.3,5.1)(283.3,1.3)(295,-.5)(306.7,7.7)(316.7,11.5)(330,21.8)(340,16.7)(350,10.8)(363.3,12.1)(376.7,6.4)(390,8.5)(400,6.4)(410,7.7)(418.3,3.8)(421.7,0)(426.7,-6.9)(443.3,1.3)(456.7,0)(466.7,3.8)(473.3,5.6)(480,0)(485,-4.4)(490,1.3)(500,9.5)(516.7,9)(533.3,6.9)(546.7,5.1)(551.7,0)(561.7,-9)(570,-6.4)(583.3,0)(596.7,5.1)(605,11.5)(611.7,3.8)(615,0)(623.3,-4.4)(633.3,-1.3)(645,-5.1)(656.7,0)(673.3,9)(683.3,8.5)(693.3,5.1)(693.3,0)} --cycle;
\addplot[fill=pBl,draw=none] coordinates {(0,0)(0,-6.9)(8.3,-5.9)(16.7,1.3)(23.3,3.8)(33.3,8.2)(43.3,2.6)(50,0)(70,0)(75,9)(83.3,10.3)(95,12.8)(106.7,10.3)(115,3.8)(120,0)(131.7,0)(140,-16.7)(145,-23.1)(150,-16.7)(160,-16.7)(173.3,-18)(190,-17)(197,-14)(203.3,-6)(208.3,1.3)(216.7,-3.8)(230,-6.4)(243.3,0)(256.7,11.5)(265,14.6)(273.3,3.8)(283.3,.5)(296.7,0)(310,3.8)(320,11.5)(328.3,16.7)(340,2.6)(350,5.1)(363.3,5.1)(376.7,3.3)(390,3.8)(406.7,3.8)(418.3,1.3)(421.7,0)(426.7,-6.4)(443.3,0)(463.3,1.3)(471.7,4.4)(478.3,.5)(485,-4.4)(491.7,0)(500,9)(516.7,6.4)(533.3,5.1)(550,1.3)(551.7,0)(561.7,-9)(576.7,-1.3)(583.3,0)(598.3,7.7)(605,11.5)(613.3,0)(623.3,-1.3)(633.3,-1.3)(645,-5.1)(656.7,0)(673.3,8.5)(683.3,6.4)(693.3,2.6)(693.3,0)} --cycle;
\addplot[fill=pCr,draw=none] coordinates {(0,0)(16.7,0)(23.3,3.1)(36.7,2.6)(50,0)(70,0)(75,3.3)(86.7,3.8)(100,1.3)(113.3,.8)(120,0)(131.7,0)(140,-9)(146.7,-3.8)(160,-1.3)(186.7,0)(206.7,2.1)(213.3,0)(230,-1.3)(246.7,1.3)(258.3,3.8)(270,3.8)(280,0)(296.7,0)(313.3,1.8)(328.3,5.1)(340,.5)(350,0)(363.3,1.3)(383.3,1.3)(406.7,1.8)(420,0)(426.7,-5.1)(440,0)(463.3,0)(476.7,.5)(485,-1.3)(493.3,1.3)(503.3,3.3)(536.7,2.6)(550,0)(560,-5.1)(576.7,0)(596.7,2.6)(605,3.8)(613.3,0)(626.7,-1.3)(645,-2.6)(656.7,0)(673.3,2.6)(693.3,.5)(693.3,0)} --cycle;
\end{axis}

% bottom line with the time axis
\begin{axis}[pane,at={(0pt,17.7pt)},anchor=south west,height=22.6pt,ymin=0,ymax=22.6,ytick=\empty,ymajorgrids=false,
  xtick={33,121,211,297,390,484.7,571.7,655,748,835},xticklabels={2020,Mar,May,Jul,Sep,Nov,2021,Mar,May,Jul},
  x tick label style={text=lab,font=\fontsize{7.4}{8}\selectfont},xtick pos=lower,xtick align=outside,tick style={draw=sep},major tick length=2pt]
\addplot[draw=down!70!black!80,line width=.8pt] coordinates {(0,4)(16.7,3)(33.3,3)(50,2.3)(68.3,4)(75,6.7)(86.7,5.7)(100,4)(113.3,7.3)(130,9)(143.3,19)(153.3,19.7)(166.7,14)(180,11.7)(200,10.7)(213.3,9)(226.7,7.3)(240,6.3)(253.3,8)(270,9)(290,7.3)(310,7.3)(325,8)(350,5.7)(366.7,5)(383.3,3.3)(400,5)(420,6.3)(450,4)(466.7,5.3)(496.7,7.3)(523.3,5.7)(546.7,3.3)(551.7,6.7)(563.3,7.3)(576.7,5.7)(603.3,6.3)(615,9)(633.3,5.7)(651.7,5.7)(670,4.7)(691.7,3.3)};
\end{axis}

% frame, markers and labels in image pixels
\begin{scope}[shift={(0,550pt)},x=1pt,y=-1pt]
\foreach \yy in {267,321.7,349.7,387.3,435.3,509.7,532.3} \draw[sep,line width=.8pt] (0,\yy) -- (932,\yy);
\draw[sep,line width=.9pt] (890.3,0) -- (890.3,550);
\foreach \xx in {70,198,322.7,465.7,612.7,739.3} \node[evt=down!70!pink] at (\xx,257) {E};
\node[evt=proj] at (636.7,257) {D};
\foreach \xx/\yy/\tt in {106.7/70/162.70,33.3/188/143.00,263/238/134.60,326.7/131.7/152.36,361/150/149.38,405.7/129.3/152.70,472.7/133.3/152.10,506.3/89.3/159.42,542.3/91.3/159.12,602.7/51/165.90,346.7/216.3/140.64,376.7/209/141.80,420.7/242.7/136.26,482.7/231.3/138.10,562.3/215.7/140.70,647/195/144.24}
  \node[callout] at (\xx,\yy) {\tt};
\node[fill=yellow!90!orange,minimum width=37.5pt,minimum height=20pt,inner sep=0pt,anchor=west] at (890.7,105) {};
\node[anchor=west,inner sep=0pt,text=black,font=\fontsize{7.8}{8}\selectfont] at (897,100.2) {158.84};
\node[anchor=west,inner sep=0pt,text=black,font=\fontsize{7.2}{8}\selectfont] at (897,109.6) {08:05:48};
\node[tag=purp,text=white] at (890.7,120.5) {155.90};
\node[tag=purp,text=white] at (890.7,131.8) {153.60};
\node[tag=red!90!black,text=white] at (890.7,155.4) {149.68};
\node[draw=gridc,rounded corners=2pt,line width=.8pt,text=gridc!85!black,inner sep=1pt,font=\fontsize{7.2}{8}\selectfont,minimum width=16pt,minimum height=10.5pt] at (911,10) {SEX};
\end{scope}
\pgfresetboundingbox
\useasboundingbox (0,0) rectangle (932pt,550pt);
\end{tikzpicture}
\end{document}
